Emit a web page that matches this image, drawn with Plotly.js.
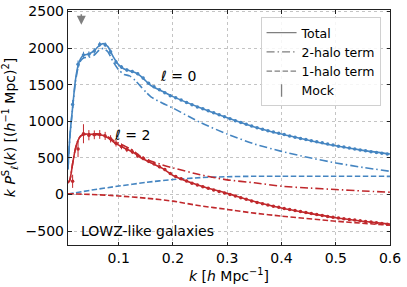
<!DOCTYPE html>
<html><head><meta charset="utf-8">
<script src="https://cdn.plot.ly/plotly-3.0.1.min.js"></script>
<style>html,body{margin:0;padding:0;background:#fff}#plot{width:407px;height:287px}</style>
</head><body><div id="plot"></div>
<script>
// ---- model curves ----
const kModel0 = [0.0065,0.01,0.015,0.02,0.025,0.03,0.035,0.045,0.055,0.065,0.072,0.08,0.09,0.1,0.11,0.12,0.13,0.14,0.15,0.16,0.18,0.2,0.25,0.3,0.35,0.4,0.45,0.5,0.55,0.6];
const total0 = [350,800,1190,1550,1760,1860,1900,1920,1965,2040,2060,2020,1880,1770,1715,1690,1665,1620,1550,1485,1410,1337,1185,1048,923,825,742,665,603,553];
const twoHalo0 = [340,790,1180,1530,1730,1830,1865,1875,1905,1980,1995,1950,1810,1700,1640,1620,1560,1480,1400,1330,1250,1180,985,825,690,589,505,431,370,317];
const kOne = [0.0065,0.05,0.1,0.15,0.2,0.25,0.3,0.35,0.4,0.5,0.6];
const oneHalo0 = [5,60,115,165,204,230,243,249,250,249,248];
const oneHalo2 = [10,0,-20,-50,-91,-155,-204,-255,-295,-365,-420];
const kModel2 = [0.0065,0.01,0.015,0.02,0.025,0.03,0.04,0.05,0.06,0.07,0.08,0.09,0.1,0.11,0.12,0.13,0.14,0.16,0.18,0.2,0.25,0.3,0.35,0.4,0.45,0.5,0.55,0.6];
const total2 = [160,200,420,620,740,800,825,822,818,808,775,720,675,635,600,560,505,430,360,260,120,15,-95,-185,-255,-317,-365,-405];
const twoHalo2 = [155,200,420,620,740,800,830,830,830,820,790,740,700,665,630,580,520,455,405,363,270,200,160,113,88,68,48,31];
// ---- mock measurements ----
const kMock = [0.015,0.025,0.035,0.045,0.055,0.065,0.075,0.085,0.095,0.105,0.115,0.125,0.135,0.145,0.155,0.165,0.175,0.185,0.195,0.205,0.215,0.225,0.235,0.245,0.255,0.265,0.275,0.285,0.295,0.305,0.315,0.325,0.335,0.345,0.355,0.365,0.375,0.385,0.395,0.405,0.415,0.425,0.435,0.445,0.455,0.465,0.475,0.485,0.495,0.505,0.515,0.525,0.535,0.545,0.555,0.565,0.575,0.585,0.595];
const mock0 = [1230,1780,1905,1915,1960,2050,2045,1950,1810,1740,1700,1680,1650,1590,1520,1470,1430,1390,1350,1320,1290,1255,1225,1195,1170,1145,1115,1088,1062,1035,1008,982,958,935,912,890,870,852,835,818,800,783,766,750,735,720,705,690,675,660,647,634,621,609,597,585,574,563,553];
const err0 = [60,50,45,40,38,35,33,30,28,26,24,22,20,19,18,17,16,15,15,14,14,13,13,12,12,12,11,11,11,10,10,10,10,10,9,9,9,9,9,9,9,9,8,8,8,8,8,8,8,8,8,8,8,8,8,8,8,8,8];
const mock2 = [180,620,830,810,815,820,800,760,700,657,615,585,530,495,455,420,380,340,285,245,215,185,155,130,105,85,60,40,20,0,-22,-45,-65,-88,-110,-128,-145,-160,-175,-190,-205,-220,-234,-247,-260,-274,-287,-300,-312,-322,-332,-341,-350,-360,-368,-377,-385,-395,-405];
const err2 = [90,110,130,70,60,60,55,50,45,40,36,33,30,28,26,24,22,21,20,19,18,17,16,16,15,15,14,14,14,13,13,13,13,12,12,12,12,12,12,11,11,11,11,11,11,11,10,10,10,10,10,10,10,10,10,10,10,10,10];
const legendNames = ['Total','2-halo term','1-halo term','Mock'];

const BLUE = '#4585c1', RED = '#c0282c', GREY = '#7f7f7f';
const DASH = '5.5px,2.5px', DASHDOT = '8px,3px,1.5px,3px';
function line(x,y,color,dash){return {x:x,y:y,type:'scatter',mode:'lines',showlegend:false,hoverinfo:'skip',
  line:{color:color,width:1.6,dash:dash,shape:'spline',smoothing:0.6}};}
function mock(y,e,color){return {x:kMock,y:y,type:'scatter',mode:'markers',showlegend:false,
  marker:{color:color,size:3.5},error_y:{type:'data',array:e,visible:true,color:color,thickness:1,width:0}};}

const traces = [
  line(kOne,oneHalo0,BLUE,DASH), line(kOne,oneHalo2,RED,DASH),
  line(kModel0,twoHalo0,BLUE,DASHDOT), line(kModel2,twoHalo2,RED,DASHDOT),
  line(kModel0,total0,BLUE,'solid'), line(kModel2,total2,RED,'solid'),
  mock(mock0,err0,BLUE), mock(mock2,err2,RED),
  {x:[null],y:[null],type:'scatter',mode:'lines',name:legendNames[0],line:{color:GREY,width:1.3}},
  {x:[null],y:[null],type:'scatter',mode:'lines',name:legendNames[1],line:{color:GREY,width:1.3,dash:DASHDOT}},
  {x:[null],y:[null],type:'scatter',mode:'lines',name:legendNames[2],line:{color:GREY,width:1.3,dash:DASH}},
  {x:[null],y:[null],type:'scatter',mode:'markers',name:legendNames[3],marker:{symbol:'line-ns-open',size:9,color:GREY,line:{color:GREY,width:1.3}}}
];
const F = 'DejaVu Sans, sans-serif';
const axisCommon = {showline:true,linecolor:'#222',linewidth:1.2,mirror:'ticks',ticks:'inside',ticklen:3.5,tickcolor:'#222',
  showgrid:true,gridcolor:'#c4c4c4',griddash:'dot',gridwidth:1,zeroline:false,tickfont:{family:F,size:14,color:'#000'}};
const layout = {
  width:407,height:287,margin:{l:68,r:17,t:10,b:42},paper_bgcolor:'#fff',plot_bgcolor:'#fff',
  font:{family:F,color:'#000'},
  xaxis:Object.assign({},axisCommon,{range:[0.0065,0.6],tick0:0,dtick:0.1,
    title:{text:'<i>k</i> [<i>h</i> Mpc<sup>−1</sup>]',font:{family:F,size:14},standoff:3}}),
  yaxis:Object.assign({},axisCommon,{range:[-690,2520],tick0:0,dtick:500,
    title:{text:'<i>k P</i><sup>S</sup><sub><i>ℓ</i></sub>(<i>k</i>) [(<i>h</i><sup>−1</sup> Mpc)<sup>2</sup>]',font:{family:F,size:14},standoff:6}}),
  legend:{x:0.598,y:0.97,xanchor:'left',yanchor:'top',bgcolor:'rgba(255,255,255,0.85)',bordercolor:'#d0d0d0',borderwidth:1,
    font:{family:F,size:12.5},tracegroupgap:0,itemwidth:30},
  annotations:[
    {x:0.21,y:1615,xref:'x',yref:'y',text:'<i>ℓ</i> = 0',showarrow:false,font:{family:F,size:14}},
    {x:0.125,y:810,xref:'x',yref:'y',text:'<i>ℓ</i> = 2',showarrow:false,font:{family:F,size:14}},
    {x:0.027,y:-500,xref:'x',yref:'y',xanchor:'left',text:'LOWZ-like galaxies',showarrow:false,font:{family:F,size:14}},
    {x:0.031,y:2320,xref:'x',yref:'y',ax:0,ay:-12,showarrow:true,arrowhead:2,arrowsize:1.2,arrowwidth:1.5,arrowcolor:GREY,text:''}
  ]
};
Plotly.newPlot('plot',traces,layout,{displayModeBar:false,staticPlot:true});
</script></body></html>
